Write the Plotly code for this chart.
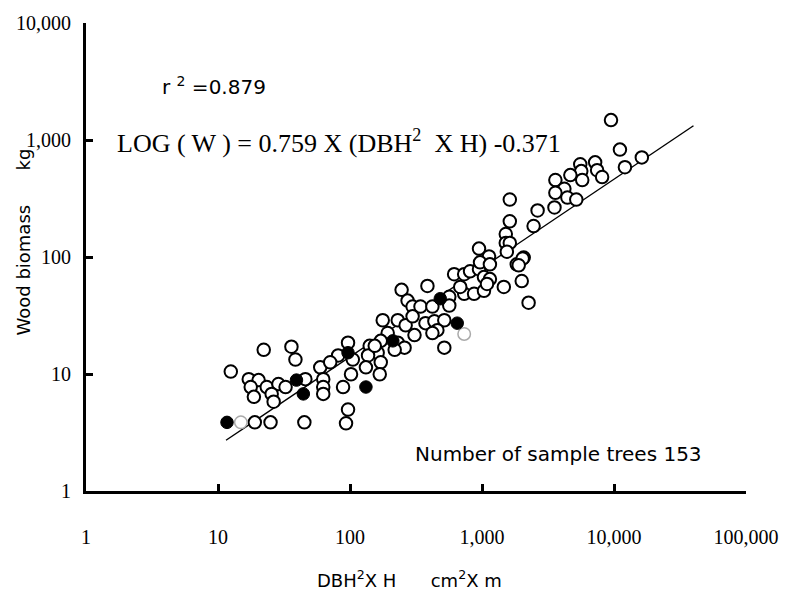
import numpy as np
import plotly.graph_objects as go

# Open circles: DBH^2 x H (cm^2 x m) and wood biomass (kg)
open_x = [22.2, 36.0, 38.6, 12.5, 17.1, 20.3, 17.7, 23.4, 28.7, 32.5, 25.5, 18.7, 26.4, 19.0, 25.0,
          59.5, 45.9, 62.7, 62.7, 62.7, 45.1,
          246, 386, 273, 298, 342, 421, 565, 565, 615, 733, 812, 949, 1035, 1148, 733, 871, 1035, 1091,
          1463, 1833, 2070, 2000, 2254, 177, 230, 264, 298, 308, 373, 436, 518, 459, 421, 518, 193, 230,
          259, 171, 141, 162, 137, 171, 168, 132, 96.6, 105, 81.3, 70.8, 101.8, 88.6, 96.6, 93.3,
          1624, 2637, 1624, 2460, 1514, 1514, 1624, 1542, 949, 1130, 966, 1148, 2033, 1897, 684, 154, 218,
          9490, 11090, 16250, 12100, 7195, 7450, 8125, 5550, 5650, 5745, 4670, 3597, 4207, 3597, 4436,
          5180, 3540]
open_w = [16.1, 17.1, 13.3, 10.5, 9.04, 8.87, 7.74, 7.74, 8.20, 7.74, 6.76, 6.38, 5.80, 3.86, 3.86,
          11.4, 9.04, 9.04, 7.74, 6.76, 3.86,
          52.4, 56.6, 42.4, 37.7, 37.7, 37.7, 45.7, 38.5, 71.3, 71.3, 75.5, 78.6, 67.3, 64.7, 48.5, 48.5,
          51.4, 58.8, 55.5, 86.5, 99, 62.3, 40.7, 28.8, 28.8, 26.1, 31.1, 21.5, 27.2, 28.2, 28.8, 23.7,
          22.4, 16.8, 22.4, 18.5, 16.8, 19.2, 17.4, 15.2, 14.4, 12.6, 9.95, 11.4, 18.5, 13.3, 14.4, 12.6,
          9.95, 7.74, 4.97, 3.79,
          310, 250, 202, 184, 157, 132, 132, 111, 118, 101, 90, 86.5, 97, 84.9, 55.5, 17.4, 16.1,
          1479, 828, 710, 585, 644, 552, 482, 620, 542, 455, 501, 455, 383, 354, 322, 310, 265]

# Filled circles
filled_x = [11.7, 39.3, 44.3, 96.6, 132, 211, 483, 649]
filled_w = [3.86, 8.87, 6.76, 15.2, 7.74, 19.2, 44.0, 27.2]

# Faint (broken outline) circles
faint_x = [14.9, 733]
faint_w = [3.86, 22.0]

# Regression: LOG(W) = 0.759 X LOG(DBH^2 X H) - 0.371
slope = 0.759
intercept = -0.371
line_x_range = [11.5, 40000]

x_tick_vals = [1, 10, 100, 1000, 10000, 100000]
x_tick_text = ["1", "10", "100", "1,000", "10,000", "100,000"]
y_tick_vals = [1, 10, 100, 1000, 10000]
y_tick_text = ["1", "10", "100", "1,000", "10,000"]

lx = np.logspace(np.log10(line_x_range[0]), np.log10(line_x_range[1]), 50)
ly = 10 ** (slope * np.log10(lx) + intercept)

fig = go.Figure()
fig.add_trace(go.Scatter(x=lx, y=ly, mode="lines", line=dict(color="black", width=1.4),
                         hoverinfo="skip", showlegend=False))
fig.add_trace(go.Scatter(x=open_x, y=open_w, mode="markers", showlegend=False,
                         marker=dict(size=12.5, color="white", line=dict(color="black", width=2))))
fig.add_trace(go.Scatter(x=faint_x, y=faint_w, mode="markers", showlegend=False,
                         marker=dict(size=12.5, color="white", line=dict(color="#aaaaaa", width=1.5))))
fig.add_trace(go.Scatter(x=filled_x, y=filled_w, mode="markers", showlegend=False,
                         marker=dict(size=12.5, color="black", line=dict(color="black", width=1))))

serif = "Liberation Serif, Times New Roman, serif"
sans = "DejaVu Sans, Verdana, sans-serif"

fig.update_layout(
    width=791, height=594,
    margin=dict(l=86, r=40, t=14, b=103),
    paper_bgcolor="white", plot_bgcolor="white",
    showlegend=False,
    xaxis=dict(type="log", range=[0, 5], tickvals=x_tick_vals, ticktext=x_tick_text,
               showgrid=False, zeroline=False, showline=True, linecolor="black", linewidth=3,
               ticks="inside", ticklen=7, tickwidth=3, tickcolor="black",
               tickfont=dict(family=serif, size=20, color="black"), ticklabelstandoff=26),
    yaxis=dict(type="log", range=[0, 4], tickvals=y_tick_vals, ticktext=y_tick_text,
               showgrid=False, zeroline=False, showline=True, linecolor="black", linewidth=3,
               ticks="inside", ticklen=7, tickwidth=3, tickcolor="black",
               tickfont=dict(family=serif, size=20, color="black"), ticklabelstandoff=8),
)

fig.add_annotation(x=0.97, y=3.463, xref="x", yref="y", xanchor="center", yanchor="middle",
                   text="r <sup>2</sup> =0.879",
                   showarrow=False, font=dict(family=sans, size=20, color="black"))
fig.add_annotation(x=0.218, y=2.985, xref="x", yref="y", xanchor="left", yanchor="middle",
                   text="LOG ( W ) = 0.759 X (DBH<sup>2</sup>\u00a0 X H) -0.371",
                   showarrow=False, font=dict(family=serif, size=26, color="black"))
fig.add_annotation(x=2.474, y=0.319, xref="x", yref="y", xanchor="left", yanchor="middle",
                   text="Number of sample trees 153",
                   showarrow=False, font=dict(family=sans, size=20, color="black"))
fig.add_annotation(x=0.49, y=-0.187, xref="paper", yref="paper", xanchor="center", yanchor="middle",
                   text="DBH<sup>2</sup>X H\u00a0\u00a0\u00a0\u00a0\u00a0\u00a0cm<sup>2</sup>X m",
                   showarrow=False, font=dict(family=sans, size=18, color="black"))
fig.add_annotation(x=-0.0947, y=0.532, xref="paper", yref="paper", xanchor="center", yanchor="middle",
                   textangle=-90,
                   text="Wood biomass\u00a0\u00a0\u00a0\u00a0\u00a0\u00a0kg",
                   showarrow=False, font=dict(family=sans, size=18, color="black"))

fig.write_html("out.html")
